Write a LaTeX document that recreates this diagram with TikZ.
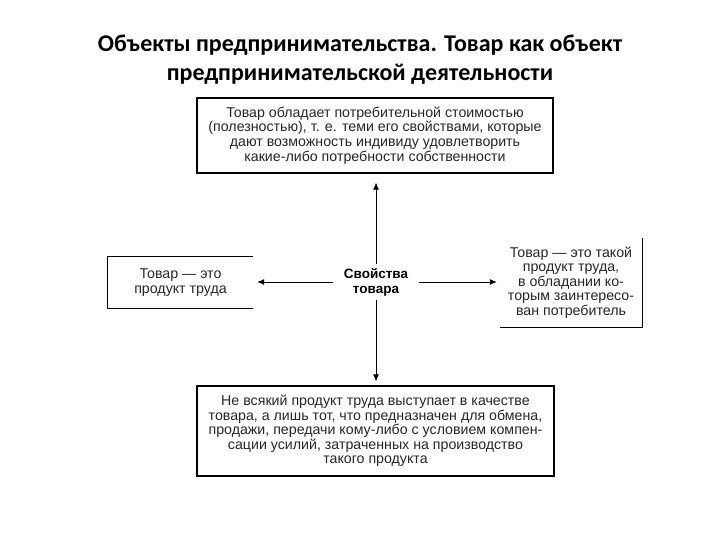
\documentclass[tikz,border=0pt]{standalone}
\usepackage{fontspec}
\setmainfont{Liberation Sans}
\newfontfamily\titlefont{Carlito}
\usetikzlibrary{positioning,arrows.meta}

\begin{document}
\begin{tikzpicture}[x=1pt,y=-1pt,
  box/.style={draw, line width=1.1pt, align=center, inner sep=0pt,
              font=\fontsize{14.2}{14.6}\selectfont, text=black!85},
  open/.style={align=center, inner sep=0pt,
               font=\fontsize{14.2}{14.6}\selectfont, text=black!85},
  edge/.style={line width=1.1pt},
  arr/.style={-{Latex[length=7pt,width=6pt]}, line width=0.9pt}
]
\useasboundingbox (0,0) rectangle (720,540);
% title
\node[font=\titlefont\bfseries\fontsize{24}{29}\selectfont, align=center] (title) at (360,60)
  {Объекты предпринимательства. Товар как объект\\предпринимательской деятельности};
% boxes
\node[box, minimum width=356, minimum height=75] (use) at (375,135.5)
  {Товар обладает потребительной стоимостью\\(полезностью), т. е. теми его свойствами, которые\\дают возможность индивиду удовлетворить\\какие-либо потребности собственности};
\node[box, minimum width=357, minimum height=90] (exch) at (375.5,431)
  {Не всякий продукт труда выступает в качестве\\товара, а лишь тот, что предназначен для обмена,\\продажи, передачи кому-либо с условием компен-\\сации усилий, затраченных на производство\\такого продукта};
\node[open, minimum width=145, minimum height=51] (labour) at (180.5,282.5)
  {Товар — это\\продукт труда};
\node[open, minimum width=142, minimum height=89] (consumer) at (571,282.5)
  {Товар — это такой\\продукт труда,\\в обладании ко-\\торым заинтересо-\\ван потребитель};
\draw[edge] (labour.north east) -- (labour.north west) -- (labour.south west) -- (labour.south east);
\draw[edge] (consumer.north east) -- (consumer.south east) -- (consumer.south west);
% centre
\node[align=center, inner sep=0pt, minimum width=85, minimum height=35,
      font=\bfseries\fontsize{13.5}{15}\selectfont] (prop) at (376,282) {Свойства\\товара};
\draw[arr, shorten >=9pt] (prop.north) -- (prop.north |- use.south);
\draw[arr, shorten >=4pt] (prop.south) -- (prop.south |- exch.north);
\draw[arr, shorten >=4pt] (prop.west) -- (prop.west -| labour.east);
\draw[arr, shorten >=3pt] (prop.east) -- (prop.east -| consumer.west);
\end{tikzpicture}
\end{document}
